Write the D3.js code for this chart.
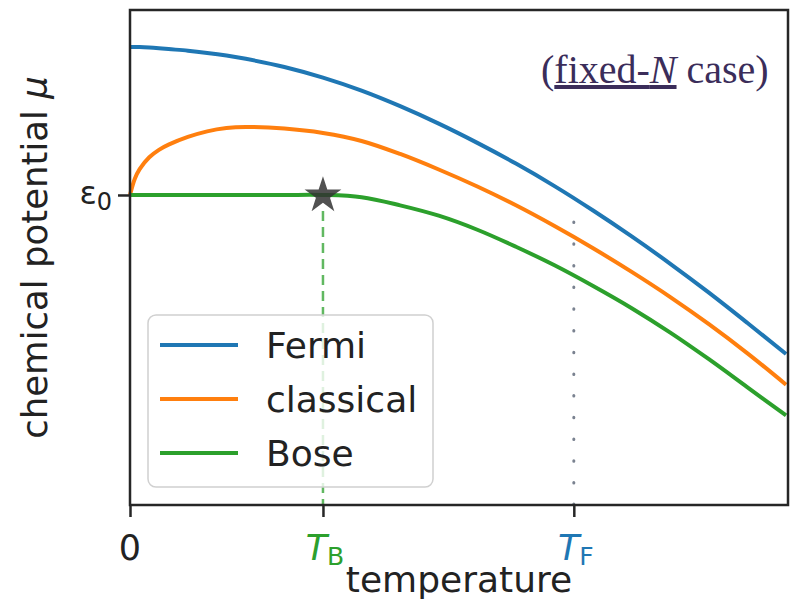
<!DOCTYPE html>
<html>
<head>
<meta charset="utf-8">
<script src="https://cdn.jsdelivr.net/npm/d3@7"></script>
<style>
  body { margin: 0; background: #fff; }
  text { font-family: "DejaVu Sans", sans-serif; }
</style>
</head>
<body>
<svg id="chart" width="790" height="600"></svg>
<script>
// temperature in units of T_B, chemical potential relative to eps0 (Fermi at T=0 is 1)
var temps     = [0, 0.025, 0.05, 0.1, 0.15, 0.2, 0.3, 0.4, 0.5, 0.6, 0.8, 1.0,
                 1.2, 1.4, 1.6, 1.8, 2.0, 2.2, 2.4, 2.6, 2.8, 3.0, 3.2, 3.4];
var fermi     = [1.0, 1.0, 1.0, 0.997, 0.992, 0.986, 0.975, 0.96, 0.942, 0.92, 0.865, 0.793,
                 0.705, 0.6, 0.482, 0.352, 0.212, 0.06, -0.105, -0.28, -0.465, -0.66, -0.865, -1.075];
var classical = [0, 0.11, 0.175, 0.255, 0.305, 0.34, 0.392, 0.43, 0.452, 0.459, 0.449, 0.419,
                 0.365, 0.277, 0.172, 0.057, -0.07, -0.21, -0.36, -0.52, -0.69, -0.873, -1.07, -1.282];
var bose      = [0, 0, 0, 0, 0, 0, 0, 0, 0, 0, 0, 0,
                 -0.015, -0.07, -0.14, -0.235, -0.35, -0.475, -0.615, -0.765, -0.93, -1.11, -1.3, -1.49];

var seriesNames = ["Fermi", "classical", "Bose"];
var xTicks = [0, 1.0, 2.3];           // 0, T_B, T_F
var xTickMain = ["0", "T", "T"];
var xTickSub = ["", "B", "F"];
var tB = 1.0, tF = 2.3;

var colors = ["#1f77b4", "#ff7f0e", "#2ca02c"];
var tickColors = ["#222", "#2ca02c", "#1f77b4"];

var svg = d3.select("#chart");
var pLeft = 130, pRight = 788, pTop = 10, pBottom = 505;

var x = d3.scaleLinear().domain([0, 3.41]).range([pLeft, pRight]);
var y = d3.scaleLinear().domain([-2.095, 1.25]).range([pBottom, pTop]);

var allSeries = [fermi, classical, bose];

var line = d3.line()
    .x(function (d, i) { return x(temps[i]); })
    .y(function (d) { return y(d); })
    .curve(d3.curveCatmullRom.alpha(0.5));

var plot = svg.append("g");

// T_F dotted guide
plot.append("line")
    .attr("x1", x(tF)).attr("x2", x(tF))
    .attr("y1", 222).attr("y2", pBottom)
    .attr("stroke", "#7a8290")
    .attr("stroke-width", 3)
    .attr("stroke-linecap", "round")
    .attr("stroke-dasharray", "0.5,21.2");

// T_B dashed guide
plot.append("line")
    .attr("x1", x(tB)).attr("x2", x(tB))
    .attr("y1", y(0) + 16).attr("y2", pBottom)
    .attr("stroke", "#2ca02c")
    .attr("stroke-opacity", 0.75)
    .attr("stroke-width", 2.5)
    .attr("stroke-dasharray", "10,6");

allSeries.forEach(function (s, i) {
    plot.append("path")
        .datum(s)
        .attr("d", line)
        .attr("fill", "none")
        .attr("stroke", colors[i])
        .attr("stroke-width", 4);
});

// star at Bose condensation point
plot.append("path")
    .attr("d", d3.symbol(d3.symbolStar, 420)())
    .attr("transform", "translate(" + x(tB) + "," + (y(0) + 0.5) + ")")
    .attr("fill", "#333")
    .attr("fill-opacity", 0.85);

// legend
var lg = svg.append("g");
lg.append("rect")
    .attr("x", 148).attr("y", 315)
    .attr("width", 285).attr("height", 172)
    .attr("rx", 8)
    .attr("fill", "#fff").attr("fill-opacity", 0.8)
    .attr("stroke", "#d0d0d0").attr("stroke-width", 1.5);
seriesNames.forEach(function (name, i) {
    var ly = 345 + i * 54;
    lg.append("line")
        .attr("x1", 160).attr("x2", 238)
        .attr("y1", ly).attr("y2", ly)
        .attr("stroke", colors[i]).attr("stroke-width", 4);
    lg.append("text")
        .attr("x", 266).attr("y", ly)
        .attr("dy", "0.35em")
        .attr("font-size", 36)
        .attr("fill", "#222")
        .text(name);
});

// frame
svg.append("rect")
    .attr("x", pLeft).attr("y", pTop)
    .attr("width", pRight - pLeft).attr("height", pBottom - pTop)
    .attr("fill", "none")
    .attr("stroke", "#262626")
    .attr("stroke-width", 2.5);

// x axis ticks
var xAxis = svg.append("g")
    .attr("transform", "translate(0," + pBottom + ")")
    .call(d3.axisBottom(x).tickValues(xTicks).tickSize(12).tickFormat(""));
xAxis.select(".domain").remove();
xAxis.selectAll(".tick line").attr("stroke", "#262626").attr("stroke-width", 2.5);

xTicks.forEach(function (t, i) {
    var lab = svg.append("text")
        .attr("x", x(t) + (xTickSub[i] ? 2 : 0))
        .attr("y", 560)
        .attr("text-anchor", "middle")
        .attr("font-size", 35)
        .attr("fill", tickColors[i]);
    lab.append("tspan")
        .attr("font-style", xTickSub[i] ? "italic" : "normal")
        .text(xTickMain[i]);
    if (xTickSub[i]) {
        lab.append("tspan")
            .attr("dy", 5)
            .attr("font-size", 25)
            .text(xTickSub[i]);
    }
});

// y axis tick at eps0
var yAxis = svg.append("g")
    .attr("transform", "translate(" + pLeft + ",0)")
    .call(d3.axisLeft(y).tickValues([0]).tickSize(12).tickFormat(""));
yAxis.select(".domain").remove();
yAxis.selectAll(".tick line").attr("stroke", "#262626").attr("stroke-width", 2.5);

var eps = svg.append("text")
    .attr("x", 112).attr("y", y(0) + 9)
    .attr("text-anchor", "end")
    .attr("font-size", 32)
    .attr("fill", "#222");
eps.append("tspan").text("ε");
eps.append("tspan").attr("dy", 6).attr("font-size", 24).text("0");

// axis labels
svg.append("text")
    .attr("x", (pLeft + pRight) / 2)
    .attr("y", 592)
    .attr("text-anchor", "middle")
    .attr("font-size", 36)
    .attr("fill", "#222")
    .text("temperature");

var yl = svg.append("text")
    .attr("transform", "translate(47," + (pTop + pBottom) / 2 + ") rotate(-90)")
    .attr("text-anchor", "middle")
    .attr("font-size", 35.5)
    .attr("fill", "#222");
yl.append("tspan").text("chemical potential ");
yl.append("tspan").attr("font-style", "italic").text("μ");

// annotation
var note = svg.append("text")
    .attr("x", 541).attr("y", 83)
    .style("font-family", "'Liberation Serif', 'Times New Roman', serif")
    .attr("font-size", 40)
    .attr("fill", "#3b2d5a");
note.append("tspan").text("(");
note.append("tspan").attr("text-decoration", "underline").text("fixed-");
note.append("tspan").attr("text-decoration", "underline").attr("font-style", "italic").text("N");
note.append("tspan").text(" case)");
</script>
</body>
</html>
